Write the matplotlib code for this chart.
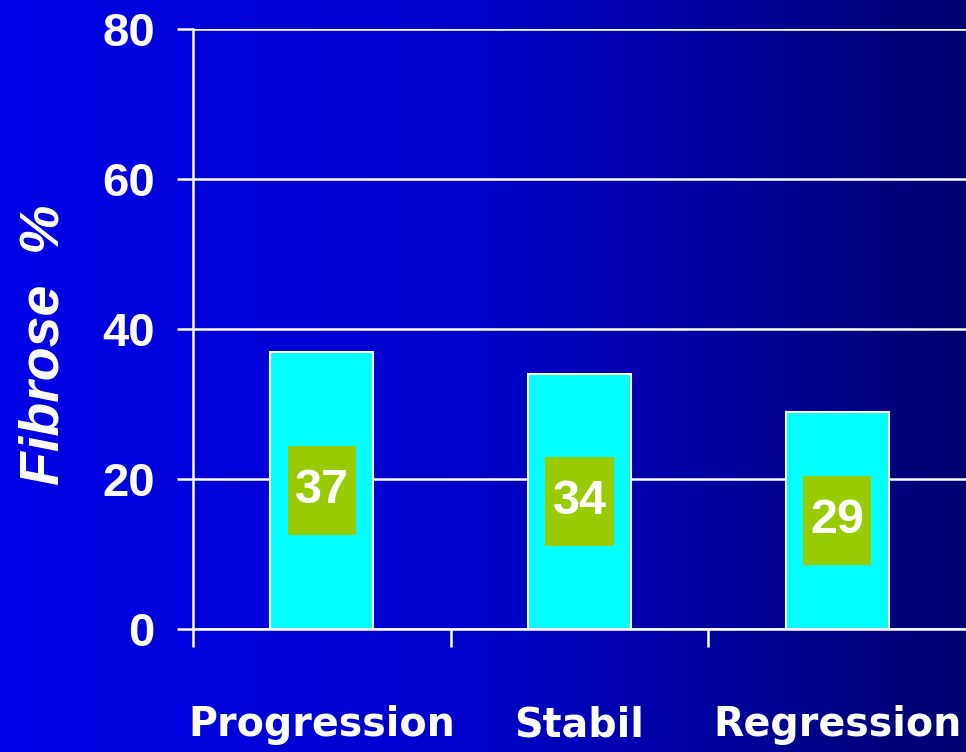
import numpy as np
import matplotlib.pyplot as plt
from matplotlib.colors import LinearSegmentedColormap
from matplotlib.patches import Rectangle

categories = ['Progression', 'Stabil', 'Regression']
values = [37, 34, 29]
y_ticks = [0, 20, 40, 60, 80]

fig = plt.figure(figsize=(9.66, 7.52), dpi=100)

# gradient background, bright blue on the left to navy on the right
bg = fig.add_axes([0, 0, 1, 1], zorder=-10)
grad = LinearSegmentedColormap.from_list('bg', ['#0000e6', '#0000c8', '#000070'])
bg.imshow(np.linspace(0, 1, 256)[None, :], aspect='auto', cmap=grad,
          extent=[0, 1, 0, 1])
bg.set_axis_off()

ax = fig.add_axes([193 / 966, 123 / 752, 773 / 966, 600 / 752])
ax.set_facecolor('none')

x = np.arange(len(categories))
ax.bar(x, values, width=0.4, color='#00ffff', edgecolor='white', linewidth=1.5, zorder=3)

for xi, v in zip(x, values):
    ax.add_patch(Rectangle((xi - 0.132, v / 2 - 5.95), 0.264, 11.9,
                           facecolor='#99cc00', edgecolor='none', zorder=4))
    ax.text(xi, v / 2, str(v), ha='center', va='center', color='white',
            fontsize=35, fontweight='bold', family='Liberation Sans', zorder=5)

ax.set_xlim(-0.5, 2.5)
ax.set_ylim(0, 80)
ax.set_yticks(y_ticks)
ax.set_yticklabels([str(t) for t in y_ticks], fontsize=34, fontweight='bold',
                   family='Liberation Sans', color='white')
ax.yaxis.grid(True, color='white', linewidth=1.8, zorder=1)
ax.set_axisbelow(True)
ax.tick_params(axis='y', length=11.5, width=1.8, color='white', pad=16)

ax.set_xticks(x)
ax.set_xticklabels(categories, fontsize=28.5, fontweight='bold', color='white',
                   family='DejaVu Sans')
ax.set_xticks(np.arange(-0.5, 2, 1), minor=True)
ax.tick_params(axis='x', which='major', length=0, pad=55)
ax.tick_params(axis='x', which='minor', length=13, width=1.8, color='white')

for side in ['top', 'right']:
    ax.spines[side].set_visible(False)
for side in ['left', 'bottom']:
    ax.spines[side].set_color('white')
    ax.spines[side].set_linewidth(1.8)

fig.text(45 / 966, 1 - 345 / 752, 'Fibrose  %', rotation=90, ha='center', va='center',
         color='white', fontsize=40, fontweight='bold', fontstyle='italic',
         family='Liberation Sans')

fig.savefig('out.png', dpi=100)
